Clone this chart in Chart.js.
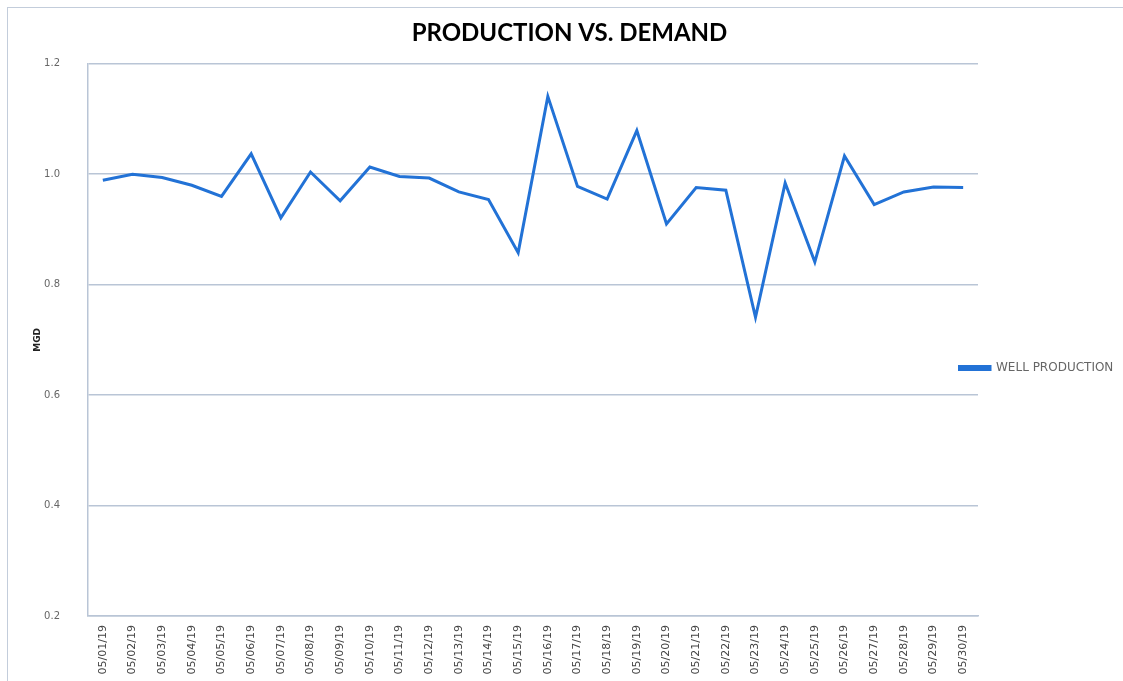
<!DOCTYPE html>
<html>
<head>
<meta charset="utf-8">
<script src="https://cdn.jsdelivr.net/npm/chart.js@4.4.0/dist/chart.umd.min.js"></script>
<style>
    html, body { margin: 0; padding: 0; background: #fff; }
    #wrap { position: relative; width: 1123px; height: 681px; }
    #frame { position: absolute; left: 7px; top: 7px; width: 1130px; height: 700px; border: 1px solid #c3cddb; }
    #graph { position: absolute; left: 0; top: 0; }
</style>
</head>
<body>
<div id="wrap">
    <div id="frame"></div>
    <canvas id="graph" width="1123" height="681"></canvas>
</div>
<script>
const days = ['05/01/19','05/02/19','05/03/19','05/04/19','05/05/19','05/06/19','05/07/19','05/08/19','05/09/19','05/10/19',
    '05/11/19','05/12/19','05/13/19','05/14/19','05/15/19','05/16/19','05/17/19','05/18/19','05/19/19','05/20/19',
    '05/21/19','05/22/19','05/23/19','05/24/19','05/25/19','05/26/19','05/27/19','05/28/19','05/29/19','05/30/19'];
const wellProduction = [0.989, 1.000, 0.994, 0.980, 0.960, 1.037, 0.921, 1.004, 0.952, 1.013,
    0.996, 0.993, 0.968, 0.954, 0.858, 1.141, 0.978, 0.955, 1.079, 0.910,
    0.976, 0.971, 0.741, 0.984, 0.841, 1.033, 0.945, 0.968, 0.977, 0.976];
const yTicks = [0.2, 0.4, 0.6, 0.8, 1.0, 1.2];

const gridColor = '#b9c5d6';
const lineBlue = '#2272d6';

// legend sits partly over the plot's right margin, like the original sheet
const legendShift = {
    id: 'legendShift',
    afterLayout(chart) {
        const lg = chart.legend;
        lg.left = chart.chartArea.right - 20;
        lg.right = chart.width;
        lg.width = lg.right - lg.left;
        lg.top = 328;
        lg.bottom = 408;
        lg.height = 80;
        const t = chart.titleBlock;
        t.left += 9;
        t.right += 9;
    }
};

const config = {
    type: 'line',
    data: {
        labels: days,
        datasets: [{
            label: 'WELL PRODUCTION',
            data: wellProduction,
            borderColor: lineBlue,
            backgroundColor: lineBlue,
            borderWidth: 3,
            pointRadius: 0,
            tension: 0,
        }]
    },
    options: {
        responsive: false,
        animation: false,
        layout: { padding: { left: 6, top: 5, right: 8, bottom: 0 } },
        scales: {
            x: {
                offset: true,
                grid: { display: false },
                border: { display: true, color: gridColor, width: 1.5 },
                ticks: {
                    minRotation: 90,
                    maxRotation: 90,
                    autoSkip: false,
                    padding: 1,
                    color: '#444',
                    font: { family: 'DejaVu Sans', size: 11 },
                },
                afterFit(scale) { scale.height = 65; }
            },
            y: {
                min: 0.2,
                max: 1.2,
                afterBuildTicks(scale) { scale.ticks = yTicks.map(v => ({ value: v })); },
                grid: { color: gridColor, lineWidth: 1.5, drawTicks: false },
                border: { display: true, color: gridColor, width: 1.5 },
                ticks: {
                    padding: 28,
                    color: '#666',
                    font: { family: 'DejaVu Sans', size: 10 },
                    callback: v => Number(v).toFixed(1),
                },
                title: {
                    display: true,
                    text: 'MGD',
                    color: '#222',
                    padding: { top: 26, bottom: 0 },
                    font: { family: 'DejaVu Sans', size: 9, weight: 'bold' },
                },
                afterFit(scale) { scale.width = 82; }
            }
        },
        plugins: {
            title: {
                display: true,
                text: 'PRODUCTION VS. DEMAND',
                color: '#000',
                padding: { top: 14, bottom: 16 },
                font: { family: 'Lato', size: 24, weight: 'bold' },
            },
            legend: {
                position: 'right',
                maxWidth: 137,
                labels: {
                    boxWidth: 32,
                    boxHeight: 3,
                    padding: 0,
                    color: '#666',
                    font: { family: 'DejaVu Sans', size: 12 },
                }
            },
            tooltip: { enabled: false }
        }
    },
    plugins: [legendShift]
};

let chart = new Chart('graph', config);
</script>
</body>
</html>
